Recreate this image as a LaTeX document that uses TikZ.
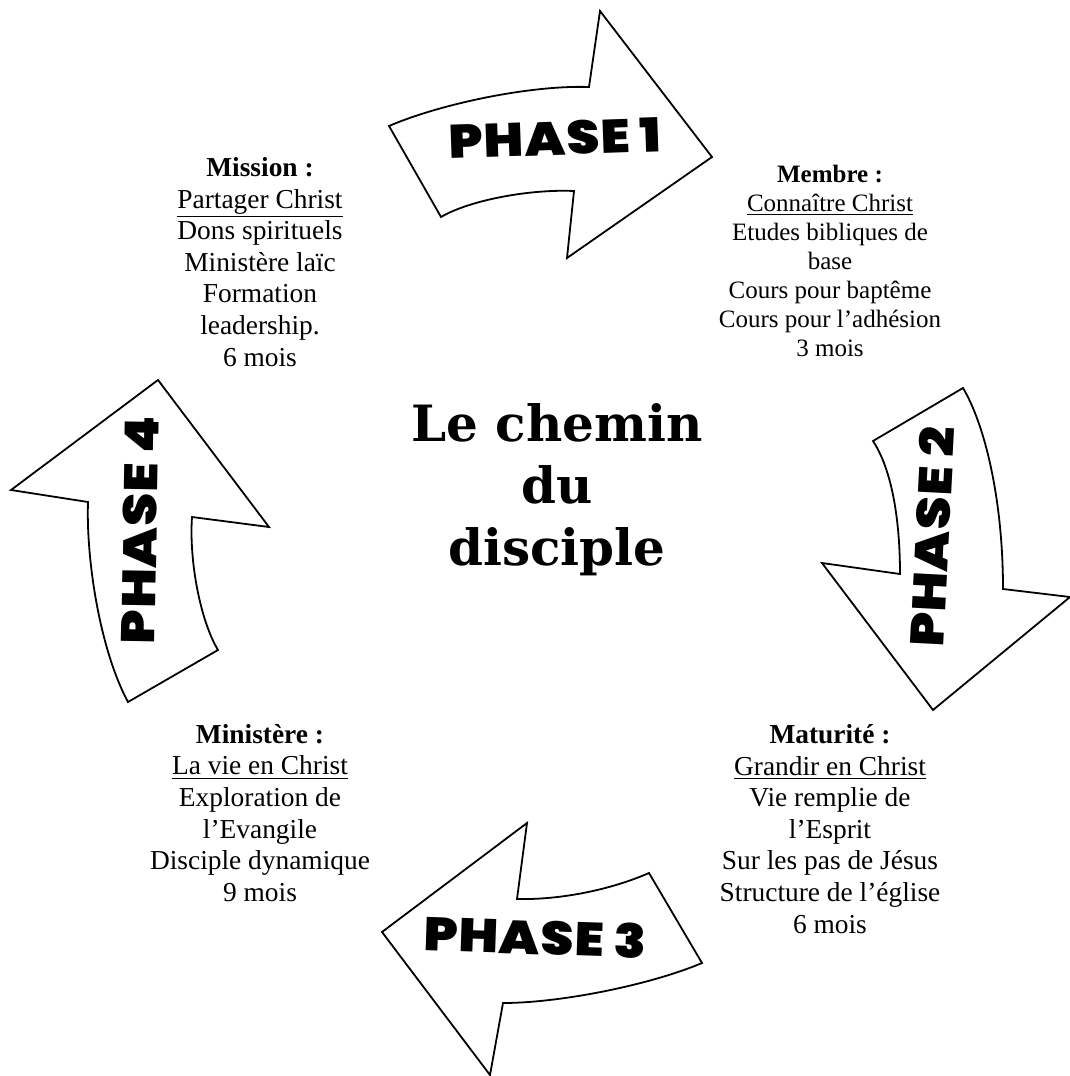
\documentclass[tikz,border=0pt]{standalone}
\usepackage{fontspec}
\setmainfont{Liberation Serif}
\newfontfamily\phasefont{Poppins Black}[FakeStretch=1.12, LetterSpace=2]
\newfontfamily\titlefont{DejaVu Serif}
\usetikzlibrary{positioning}

\begin{document}
\begin{tikzpicture}[
    x=0.5pt, y=-0.5pt,
    phasearrow/.style={draw, line width=0.9pt, line join=miter, fill=white},
    phaselabel/.style={font=\phasefont\fontsize{23.5}{26}\selectfont, inner sep=0pt},
    info/.style={align=center, inner sep=0pt, font=\fontsize{13.7}{15.8}\selectfont},
    title/.style={align=center, inner sep=0pt, font=\titlefont\bfseries\fontsize{25}{31}\selectfont}
]
    \useasboundingbox (0,0) rectangle (1070,1076);

    % the four curved arrows
    \draw [phasearrow] (389,126) .. controls (440,104) and (530,85) .. (589,87)
        -- (600,11) -- (712,157) -- (567,258) -- (574,191)
        .. controls (530,189) and (470,200) .. (441,217) -- cycle;
    \draw [phasearrow] (963,388) .. controls (985,425) and (1003,500) .. (1003,589)
        -- (1070,597) -- (933,710) -- (822,563) -- (900,574)
        .. controls (900,520) and (892,470) .. (873,441) -- cycle;
    \draw [phasearrow] (702,963) .. controls (650,985) and (560,1003) .. (503,1003)
        -- (490,1075) -- (382,932) -- (527,823) -- (517,899)
        .. controls (560,900) and (610,890) .. (649,873) -- cycle;
    \draw [phasearrow] (128,702) .. controls (100,650) and (86,560) .. (88,502)
        -- (11,490) -- (158,380) -- (269,527) -- (192,517)
        .. controls (189,560) and (200,620) .. (218,650) -- cycle;

    \node [phaselabel, rotate=2] (phase1) at (555,138) {PHASE 1};
    \node [phaselabel, rotate=87] (phase2) at (932,537) {PHASE 2};
    \node [phaselabel, rotate=-2] (phase3) at (535,937) {PHASE 3};
    \node [phaselabel, rotate=89] (phase4) at (140,530) {PHASE 4};

    \node [title] (chemin) at (557,490) {Le chemin\\du\\disciple};

    \node [info] (mission) at (260,262) {\textbf{Mission :}\\\underline{Partager Christ}\\Dons spirituels\\Ministère laïc\\Formation\\leadership.\\6 mois};
    \node [info, font=\fontsize{12.5}{14.5}\selectfont] (membre) at (830,261) {\textbf{Membre :}\\\underline{Connaître Christ}\\Etudes bibliques de\\base\\Cours pour baptême\\Cours pour l’adhésion\\3 mois};
    \node [info] (maturite) at (830,829) {\textbf{Maturité :}\\\underline{Grandir en Christ}\\Vie remplie de\\l’Esprit\\Sur les pas de Jésus\\Structure de l’église\\6 mois};
    \node [info] (ministere) at (260,813) {\textbf{Ministère :}\\\underline{La vie en Christ}\\Exploration de\\l’Evangile\\Disciple dynamique\\9 mois};

\end{tikzpicture}
\end{document}
